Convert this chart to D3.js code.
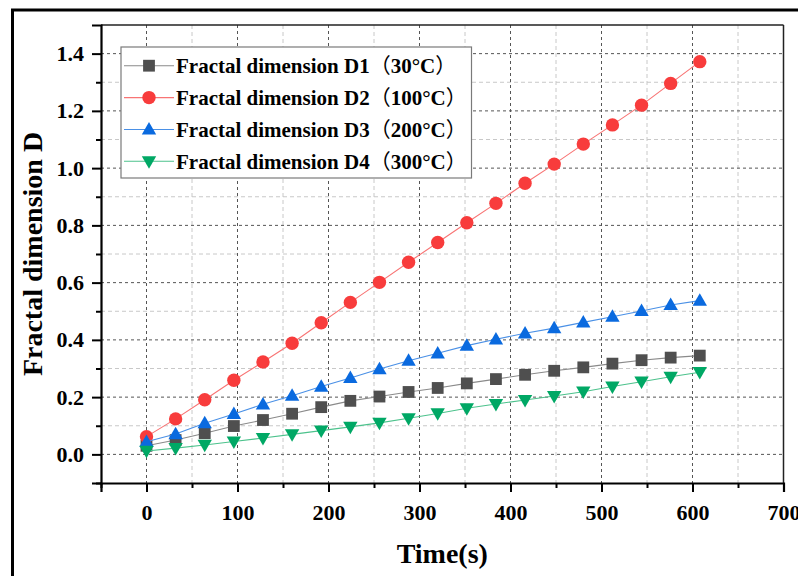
<!DOCTYPE html>
<html><head><meta charset="utf-8">
<script src="https://d3js.org/d3.v7.min.js"></script>
<style>
body{margin:0;background:#fff;}
svg{display:block;}
text{font-family:"Liberation Serif","Times New Roman",serif;font-weight:bold;fill:#000;}
.cjk{font-family:"Noto Sans CJK SC",sans-serif;font-weight:normal;}
</style></head>
<body>
<svg id="chart" width="798" height="576"></svg>
<script>
const times = [0,32,64,96,128,160,192,224,256,288,320,352,384,416,448,480,512,544,576,608];
const d1 = [0.030,0.050,0.074,0.099,0.120,0.142,0.165,0.187,0.202,0.218,0.232,0.248,0.263,0.278,0.292,0.304,0.317,0.329,0.338,0.345];
const d2 = [0.062,0.124,0.191,0.259,0.323,0.388,0.460,0.531,0.601,0.671,0.740,0.809,0.877,0.947,1.014,1.084,1.151,1.220,1.296,1.372];
const d3v = [0.044,0.071,0.109,0.141,0.175,0.205,0.237,0.267,0.298,0.327,0.353,0.380,0.402,0.423,0.441,0.461,0.481,0.501,0.522,0.537];
const d4 = [0.012,0.022,0.033,0.045,0.057,0.070,0.083,0.096,0.110,0.126,0.143,0.161,0.176,0.190,0.204,0.219,0.237,0.254,0.271,0.287];
const seriesNames = ["Fractal dimension D1","Fractal dimension D2","Fractal dimension D3","Fractal dimension D4"];
const seriesTemps = ["30°C","100°C","200°C","300°C"];
const xTicks = [0,100,200,300,400,500,600,700];
const yTicks = [0.0,0.2,0.4,0.6,0.8,1.0,1.2,1.4];
const xMinor = [-50,50,150,250,350,450,550,650];
const yMinor = [-0.1,0.1,0.3,0.5,0.7,0.9,1.1,1.3];

const styles = [
  {fill:"#4f4f4f", line:"#8a8a8a", shape:"square"},
  {fill:"#f83c3c", line:"#f87474", shape:"circle"},
  {fill:"#0a6adf", line:"#4a90e6", shape:"up"},
  {fill:"#00a865", line:"#4cc28c", shape:"down"}
];
const allData = [d1,d2,d3v,d4];

const svg = d3.select("#chart");
const L=101, R=783.5, T=25, B=483;
const x = d3.scaleLinear().domain([-50,700]).range([L,R]);
const y = d3.scaleLinear().domain([-0.1,1.5]).range([B,T]);

// outer frame
svg.append("rect").attr("x",12.5).attr("y",10).attr("width",820).attr("height",620)
  .attr("fill","none").attr("stroke","#000").attr("stroke-width",3);

// gridlines
const g = svg.append("g");
g.selectAll(".vmin").data(xMinor.filter(d=>d>-50)).enter().append("line")
  .attr("x1",d=>x(d)).attr("x2",d=>x(d)).attr("y1",T).attr("y2",B)
  .attr("stroke","#c8c8c8").attr("stroke-dasharray","4,3").attr("stroke-width",1);
g.selectAll(".hmin").data(yMinor.filter(d=>d>-0.1)).enter().append("line")
  .attr("y1",d=>y(d)).attr("y2",d=>y(d)).attr("x1",L).attr("x2",R)
  .attr("stroke","#c8c8c8").attr("stroke-dasharray","4,3").attr("stroke-width",1);
g.selectAll(".vmaj").data(xTicks.filter(d=>d<700)).enter().append("line")
  .attr("x1",d=>x(d)).attr("x2",d=>x(d)).attr("y1",T).attr("y2",B)
  .attr("stroke","#555").attr("stroke-dasharray","3,3").attr("stroke-width",1);
g.selectAll(".hmaj").data(yTicks).enter().append("line")
  .attr("y1",d=>y(d)).attr("y2",d=>y(d)).attr("x1",L).attr("x2",R)
  .attr("stroke","#555").attr("stroke-dasharray","3,3").attr("stroke-width",1);

// plot frame top/right
svg.append("line").attr("x1",L).attr("x2",R).attr("y1",T).attr("y2",T).attr("stroke","#222").attr("stroke-width",1.5);
svg.append("line").attr("x1",R).attr("x2",R).attr("y1",T).attr("y2",B).attr("stroke","#222").attr("stroke-width",1.5);

// axes
const xAxis = d3.axisBottom(x).tickValues(xTicks).tickSize(9).tickPadding(12).tickFormat(d3.format("d"));
const xa = svg.append("g").attr("transform",`translate(0,${B})`).call(xAxis);
xa.select(".domain").attr("stroke","#000").attr("stroke-width",2.2);
xa.selectAll(".tick line").attr("stroke","#000").attr("stroke-width",2);
xa.selectAll(".tick text").style("font-size","22px").attr("fill","#000");
const xMinorAxis = d3.axisBottom(x).tickValues(xMinor).tickSize(5).tickFormat("");
const xm = svg.append("g").attr("transform",`translate(0,${B})`).call(xMinorAxis);
xm.select(".domain").remove();
xm.selectAll(".tick line").attr("stroke","#000").attr("stroke-width",2);

const yAxis = d3.axisLeft(y).tickValues(yTicks).tickSize(9).tickPadding(8).tickFormat(d3.format(".1f"));
const ya = svg.append("g").attr("transform",`translate(${L},0)`).call(yAxis);
ya.select(".domain").attr("stroke","#000").attr("stroke-width",2.2);
ya.selectAll(".tick line").attr("stroke","#000").attr("stroke-width",2);
ya.selectAll(".tick text").style("font-size","22px").attr("fill","#000");
const yMinorAxis = d3.axisLeft(y).tickValues(yMinor).tickSize(5).tickFormat("");
const ym = svg.append("g").attr("transform",`translate(${L},0)`).call(yMinorAxis);
ym.select(".domain").remove();
ym.selectAll(".tick line").attr("stroke","#000").attr("stroke-width",2);

// axis titles
svg.append("text").attr("x",(L+R)/2).attr("y",563).attr("text-anchor","middle")
  .style("font-size","28px").text("Time(s)");
svg.append("text").attr("transform",`translate(42,${(T+B)/2}) rotate(-90)`).attr("text-anchor","middle")
  .style("font-size","28px").text("Fractal dimension D");

// markers
function drawMarker(sel, shape, color){
  if(shape==="square"){
    sel.append("rect").attr("x",-5.9).attr("y",-5.9).attr("width",11.8).attr("height",11.8).attr("fill",color);
  } else if(shape==="circle"){
    sel.append("circle").attr("r",6.7).attr("fill",color);
  } else if(shape==="up"){
    sel.append("path").attr("d","M0,-7.4L7.2,5.1L-7.2,5.1Z").attr("fill",color);
  } else {
    sel.append("path").attr("d","M0,7.4L7.2,-5.1L-7.2,-5.1Z").attr("fill",color);
  }
}

const line = d3.line().x(d=>x(d[0])).y(d=>y(d[1]));
allData.forEach((vals,i)=>{
  const pts = times.map((t,j)=>[t,vals[j]]);
  const sg = svg.append("g");
  sg.append("path").datum(pts).attr("d",line).attr("fill","none")
    .attr("stroke",styles[i].line).attr("stroke-width",1.1);
  sg.selectAll("g.m").data(pts).enter().append("g")
    .attr("transform",d=>`translate(${x(d[0])},${y(d[1])})`)
    .each(function(){ drawMarker(d3.select(this), styles[i].shape, styles[i].fill); });
});

// legend
const lg = svg.append("g");
lg.append("rect").attr("x",121).attr("y",47).attr("width",350.5).attr("height",131)
  .attr("fill","#fff").attr("stroke","#7a7a7a").attr("stroke-width",1.2);
const rowY = [65.7,97.6,129.5,161.3];
seriesNames.forEach((name,i)=>{
  lg.append("line").attr("x1",124).attr("x2",174).attr("y1",rowY[i]).attr("y2",rowY[i])
    .attr("stroke",styles[i].line).attr("stroke-width",1.1);
  const m = lg.append("g").attr("transform",`translate(149,${rowY[i]})`);
  drawMarker(m, styles[i].shape, styles[i].fill);
  const t = lg.append("text").attr("x",176).attr("y",rowY[i]+7.5).style("font-size","21px");
  t.append("tspan").text(name);
  t.append("tspan").attr("class","cjk").text("（");
  t.append("tspan").text(seriesTemps[i]);
  t.append("tspan").attr("class","cjk").text("）");
});
</script>
</body></html>
